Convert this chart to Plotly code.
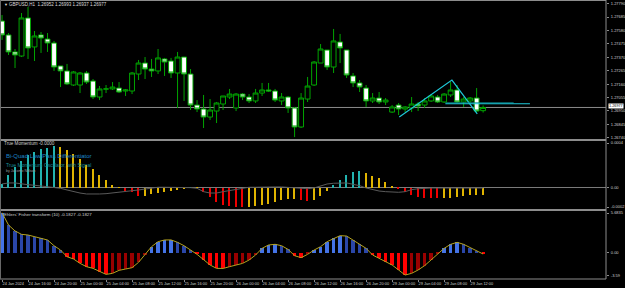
import plotly.graph_objects as go
from plotly.subplots import make_subplots

# ---------------- data ----------------
opens = [1.27654, 1.27545, 1.27412, 1.27380, 1.27678, 1.27451, 1.27545, 1.27513, 1.27482, 1.27302,
         1.27263, 1.27153, 1.27153, 1.27247, 1.27184, 1.27059, 1.27122, 1.27122, 1.27129, 1.27106,
         1.27106, 1.27239, 1.27325, 1.27278, 1.27263, 1.27357, 1.27341, 1.27247, 1.27372, 1.27239,
         1.26996, 1.26965, 1.26902, 1.26949, 1.27004, 1.27059, 1.26973, 1.27082, 1.27059, 1.27028,
         1.27090, 1.27114, 1.27106, 1.27028, 1.27059, 1.26973, 1.26824, 1.27043, 1.27153, 1.27325,
         1.27427, 1.27294, 1.27490, 1.27427, 1.27224, 1.27169, 1.27129, 1.27028, 1.27051, 1.27020,
         1.26941, 1.26996, 1.26965, 1.26973, 1.27004, 1.26996, 1.27028, 1.27059, 1.27020, 1.27075,
         1.27114, 1.27020, 1.27028, 1.27051, 1.26952]
highs = [1.27701, 1.27560, 1.27435, 1.27717, 1.27764, 1.27576, 1.27568, 1.27560, 1.27498, 1.27302,
         1.27318, 1.27263, 1.27255, 1.27263, 1.27200, 1.27145, 1.27153, 1.27176, 1.27176, 1.27122,
         1.27255, 1.27349, 1.27372, 1.27357, 1.27435, 1.27365, 1.27365, 1.27412, 1.27372, 1.27278,
         1.27035, 1.27075, 1.27043, 1.27020, 1.27067, 1.27122, 1.27090, 1.27090, 1.27082, 1.27122,
         1.27169, 1.27169, 1.27122, 1.27090, 1.27067, 1.26981, 1.27090, 1.27216, 1.27341, 1.27474,
         1.27427, 1.27592, 1.27553, 1.27427, 1.27247, 1.27192, 1.27153, 1.27090, 1.27098, 1.27051,
         1.26996, 1.27012, 1.26988, 1.27059, 1.27020, 1.27051, 1.27082, 1.27075, 1.27090, 1.27176,
         1.27153, 1.27059, 1.27059, 1.27129, 1.26993]
lows = [1.27506, 1.27388, 1.27286, 1.27372, 1.27357, 1.27341, 1.27404, 1.27412, 1.27263, 1.27137,
        1.27153, 1.27145, 1.27090, 1.27161, 1.27043, 1.27035, 1.27090, 1.27114, 1.27090, 1.27067,
        1.27082, 1.27192, 1.27200, 1.27216, 1.27239, 1.27224, 1.27208, 1.26973, 1.27028, 1.26957,
        1.26941, 1.26816, 1.26879, 1.26855, 1.26957, 1.27043, 1.26949, 1.27035, 1.27012, 1.27012,
        1.27067, 1.27098, 1.27020, 1.26996, 1.26934, 1.26745, 1.26816, 1.27020, 1.27145, 1.27325,
        1.27271, 1.27247, 1.27325, 1.27208, 1.27137, 1.27098, 1.26981, 1.27012, 1.27004, 1.26996,
        1.26934, 1.26918, 1.26941, 1.26941, 1.26949, 1.26973, 1.27020, 1.27012, 1.27012, 1.27059,
        1.27012, 1.26981, 1.27012, 1.26941, 1.26937]
closes = [1.27545, 1.27412, 1.27388, 1.27678, 1.27443, 1.27537, 1.27521, 1.27482, 1.27294, 1.27263,
          1.27161, 1.27255, 1.27247, 1.27176, 1.27059, 1.27122, 1.27122, 1.27137, 1.27098, 1.27114,
          1.27247, 1.27325, 1.27278, 1.27263, 1.27365, 1.27333, 1.27247, 1.27372, 1.27239, 1.26996,
          1.26965, 1.26902, 1.26957, 1.27012, 1.27067, 1.27082, 1.27082, 1.27059, 1.27028, 1.27090,
          1.27114, 1.27106, 1.27035, 1.27059, 1.26973, 1.26824, 1.27051, 1.27145, 1.27333, 1.27435,
          1.27294, 1.27498, 1.27443, 1.27231, 1.27169, 1.27137, 1.27028, 1.27051, 1.27020, 1.27035,
          1.26981, 1.26965, 1.26981, 1.27004, 1.26988, 1.27028, 1.27067, 1.27020, 1.27082, 1.27114,
          1.27020, 1.27043, 1.27051, 1.26949, 1.26977]

momentum = [0.000038, 0.000124, 0.000197, 0.000259, 0.000314, 0.000345, 0.000371, 0.000380, 0.000395, 0.000392,
            0.000364, 0.000323, 0.000276, 0.000219, 0.000181, 0.000124, 0.000076, 0.000031, 0.000005, -0.000031,
            -0.000041, -0.000079, -0.000078, -0.000057, -0.000048, -0.000035, -0.000026, -0.000016, -0.000004, 0.000002,
            0.000001, -0.000041, -0.000088, -0.000130, -0.000159, -0.000174, -0.000178, -0.000183, -0.000178, -0.000168,
            -0.000162, -0.000152, -0.000130, -0.000114, -0.000105, -0.000103, -0.000111, -0.000124, -0.000114, -0.000079,
            -0.000026, 0.000029, 0.000076, 0.000124, 0.000155, 0.000159, 0.000143, 0.000117, 0.000092, 0.000060,
            0.000022, -0.000010, -0.000035, -0.000064, -0.000083, -0.000092, -0.000098, -0.000100, -0.000098, -0.000092,
            -0.000083, -0.000073, -0.000071, -0.000067, -0.000065]
signal = [0.000038, 0.000048, 0.000048, 0.000038, 0.000031, 0.000026, 0.000019, 0.000012, 0.000007, -0.000003,
          -0.000019, -0.000035, -0.000048, -0.000057, -0.000060, -0.000057, -0.000054, -0.000048, -0.000041, -0.000035,
          -0.000029, -0.000019, -0.000010, 0.000000, 0.000007, 0.000007, 0.000007, 0.000007, 0.000007, 0.000003,
          -0.000003, -0.000035, -0.000048, -0.000048, -0.000035, -0.000026, -0.000010, -0.000003, 0.000007, 0.000007,
          0.000010, 0.000010, 0.000010, 0.000010, 0.000007, 0.000000, -0.000003, -0.000007, 0.000000, 0.000022,
          0.000038, 0.000045, 0.000048, 0.000048, 0.000035, 0.000022, 0.000000, -0.000016, -0.000029, -0.000035,
          -0.000041, -0.000041, -0.000035, -0.000016, -0.000007, 0.000000, 0.000000, 0.000000, 0.000000, 0.000000,
          0.000000, 0.000000, 0.000000, 0.000000, 0.000000]
fisher = [5.45, 3.77, 2.96, 2.50, 2.41, 2.18, 1.96, 1.73, 0.95, 0.36,
          -0.55, -0.86, -1.46, -1.91, -2.14, -2.59, -2.96, -2.82, -2.41, -2.23,
          -2.05, -1.32, -0.32, 0.82, 1.50, 1.73, 1.74, 1.41, 0.95, 0.36,
          -0.23, -0.95, -1.68, -2.14, -2.15, -1.91, -1.68, -1.46, -1.00, -0.32,
          0.59, 1.05, 1.14, 0.95, 0.45, -0.41, -0.68, -0.23, 0.36, 0.82,
          1.50, 1.96, 2.32, 2.27, 1.73, 1.14, 0.59, -0.32, -0.77, -1.23,
          -1.68, -2.36, -3.05, -2.82, -2.36, -1.77, -1.00, -0.23, 0.59, 1.14,
          1.41, 1.14, 0.68, 0.23, -0.1827]

tick_pos = list(range(0, 75, 4))
tick_text = ["24 Jan 2024", "24 Jan 16:00", "24 Jan 20:00", "25 Jan 00:00", "25 Jan 04:00",
             "25 Jan 08:00", "25 Jan 12:00", "25 Jan 16:00", "25 Jan 20:00", "26 Jan 00:00",
             "26 Jan 04:00", "26 Jan 08:00", "26 Jan 12:00", "26 Jan 16:00", "26 Jan 20:00",
             "29 Jan 00:00", "29 Jan 04:00", "29 Jan 08:00", "29 Jan 12:00"]
price_ticks = [1.27790, 1.27685, 1.27580, 1.27475, 1.27370, 1.27265, 1.27160, 1.27055, 1.26950, 1.26845, 1.26740]

# drawn objects (bar position, price)
zigzag_x = [61.1, 69.2, 73.1]
zigzag_p = [1.26902, 1.27192, 1.26926]
hline_x = [68.2, 81.2]
hline_p = [1.27006, 1.27006]
hline2_x = [68.2, 78.7]
hline2_p = [1.27013, 1.27013]

idx = list(range(len(closes)))

# ---------------- styles ----------------
BG = "black"
FRAME = "#8c8c8c"
GREEN = "#00a400"
TXT = "#cfcfcf"
FONT = "Liberation Sans"

def mom_color(i):
    v = momentum[i]
    d = v - momentum[i - 1] if i > 0 else 1
    if v >= 0:
        return "#22b3b0" if d >= 0 else "#e0b400"
    return "#ee0000" if d < 0 else "#e0b400"

def fish_color(i):
    v = fisher[i]
    d = v - fisher[i - 1] if i > 0 else 1
    if v >= 0:
        return "#4473e6" if d > 0 else "#2a46a8"
    return "#ff0000" if d < 0 else "#9a0000"

fig = make_subplots(rows=3, cols=1, shared_xaxes=True)

fig.add_trace(go.Candlestick(
    x=idx, open=opens, high=highs, low=lows, close=closes,
    increasing=dict(line=dict(color=GREEN, width=1), fillcolor="black"),
    decreasing=dict(line=dict(color=GREEN, width=1), fillcolor="white"),
    whiskerwidth=0, showlegend=False, hoverinfo="skip"), row=1, col=1)

fig.add_trace(go.Scatter(x=zigzag_x, y=zigzag_p, mode="lines",
                         line=dict(color="#1ec8d8", width=1.2), showlegend=False, hoverinfo="skip"), row=1, col=1)
fig.add_trace(go.Scatter(x=hline2_x, y=hline2_p, mode="lines",
                         line=dict(color="#0a8a90", width=1), showlegend=False, hoverinfo="skip"), row=1, col=1)
fig.add_trace(go.Scatter(x=hline_x, y=hline_p, mode="lines",
                         line=dict(color="#1ec8d8", width=1.2), showlegend=False, hoverinfo="skip"), row=1, col=1)

fig.add_trace(go.Bar(x=idx, y=momentum, width=0.26,
                     marker=dict(color=[mom_color(i) for i in idx], line=dict(width=0)),
                     showlegend=False, hoverinfo="skip"), row=2, col=1)
fig.add_trace(go.Scatter(x=idx, y=signal, mode="lines", line=dict(color="#5a5a5a", width=1),
                         showlegend=False, hoverinfo="skip"), row=2, col=1)

fig.add_trace(go.Bar(x=idx, y=fisher, width=0.5,
                     marker=dict(color=[fish_color(i) for i in idx], line=dict(width=0)),
                     showlegend=False, hoverinfo="skip"), row=3, col=1)
fig.add_trace(go.Scatter(x=idx, y=fisher, mode="lines", line=dict(color="#b4a21e", width=1),
                         showlegend=False, hoverinfo="skip"), row=3, col=1)

H = 279.0
def py(pix):
    return 1 - pix / H

xrange = [-0.31, 92.9]
for r in (1, 2, 3):
    fig.update_xaxes(range=xrange, showgrid=False, zeroline=False, showline=False, automargin=False,
                     rangeslider=dict(visible=False), row=r, col=1)
fig.update_xaxes(showticklabels=False, ticks="", row=1, col=1)
fig.update_xaxes(showticklabels=False, ticks="", row=2, col=1)
fig.update_xaxes(tickvals=tick_pos, ticktext=tick_text, ticks="outside", ticklen=2, tickangle=0,
                 tickcolor=FRAME, ticklabelposition="outside right",
                 tickfont=dict(size=3.9, color=TXT, family=FONT), row=3, col=1)

yfont = dict(size=4.0, color=TXT, family=FONT)
common_y = dict(side="right", automargin=False, ticks="outside", ticklen=2, tickcolor=FRAME,
                showgrid=False, showline=False, tickfont=yfont, ticklabelstandoff=1)
fig.update_yaxes(domain=[py(139), py(1)], range=[1.26730, 1.27811],
                 tickvals=price_ticks, tickformat=".5f", zeroline=False, row=1, col=1, **common_y)
fig.update_yaxes(domain=[py(209), py(141)], range=[-0.0002, 0.000447],
                 tickvals=[0.000428, 0.0, -0.000181], ticktext=["0.0004", "0.00", "-0.0002"],
                 zeroline=True, zerolinecolor="#7a7a7a", zerolinewidth=1, row=2, col=1, **common_y)
fig.update_yaxes(domain=[py(279), py(211)], range=[-3.59, 5.6835],
                 tickvals=[5.41, 0.0, -3.18], ticktext=["5.6835", "0.00", "-3.59"],
                 zeroline=False, row=3, col=1, **common_y)

shapes = []
# frame and separators
for (a, b) in [(0, 1), (139, 141), (209, 211), (278.5, 279.5)]:
    shapes.append(dict(type="rect", xref="paper", yref="paper", x0=0, x1=1, y0=py(b), y1=py(a),
                       fillcolor=FRAME, line=dict(width=0), layer="above"))
shapes.append(dict(type="line", xref="paper", yref="paper", x0=1, x1=1, y0=0, y1=1,
                   line=dict(color=FRAME, width=1), layer="above"))
shapes.append(dict(type="line", xref="paper", yref="paper", x0=0.0008, x1=0.0008, y0=0, y1=1,
                   line=dict(color="#6a6a6a", width=1), layer="above"))
# bid line
shapes.append(dict(type="line", xref="x", yref="y", x0=xrange[0], x1=xrange[1],
                   y0=closes[-1], y1=closes[-1], line=dict(color="#8a8a8a", width=1), layer="below"))

def ann(x, ypix, text, size, color, **kw):
    d = dict(xref="paper", yref="paper", x=x / 606.0, y=py(ypix), text=text, showarrow=False,
             xanchor="left", yanchor="middle", font=dict(size=size, color=color, family=FONT))
    d.update(kw)
    return d

annotations = [
    ann(1.5, 4, "▼", 4, "#dddddd"),
    ann(7, 4.5, "GBPUSD,H1  %.5f %.5f %.5f %.5f" % (opens[-1], highs[-1], lows[-1], closes[-1]), 4.5, "#dddddd"),
    ann(2, 143.5, "True Momentum -0.0000", 4.6, TXT),
    ann(4, 155.5, "Bi-Quad Low Pass Differentiator", 6, "#1d86c6"),
    ann(4, 164.5, "True Momentum Oscillator, with Signal", 5, "#168c96"),
    ann(4, 171, "by Jacomo Nelson", 3.6, "#9a9a9a"),
    ann(2, 214, "Ehlers' Fisher transform (10) %.4f %.4f" % (fisher[-1], fisher[-1]), 4.4, TXT),
    dict(xref="paper", yref="y", x=1.004, y=closes[-1], yshift=1, text="%.5f" % closes[-1], showarrow=False,
         xanchor="left", yanchor="middle", bgcolor="white", borderpad=0,
         font=dict(size=3.8, color="black", family=FONT)),
]

fig.update_layout(
    width=625, height=288, margin=dict(l=0, r=19, t=0, b=9, autoexpand=False),
    paper_bgcolor=BG, plot_bgcolor=BG, showlegend=False, bargap=0,
    boxgap=0.25, boxgroupgap=0,
    shapes=shapes, annotations=annotations,
    font=dict(family=FONT, color=TXT),
)

fig.write_html("out.html")
